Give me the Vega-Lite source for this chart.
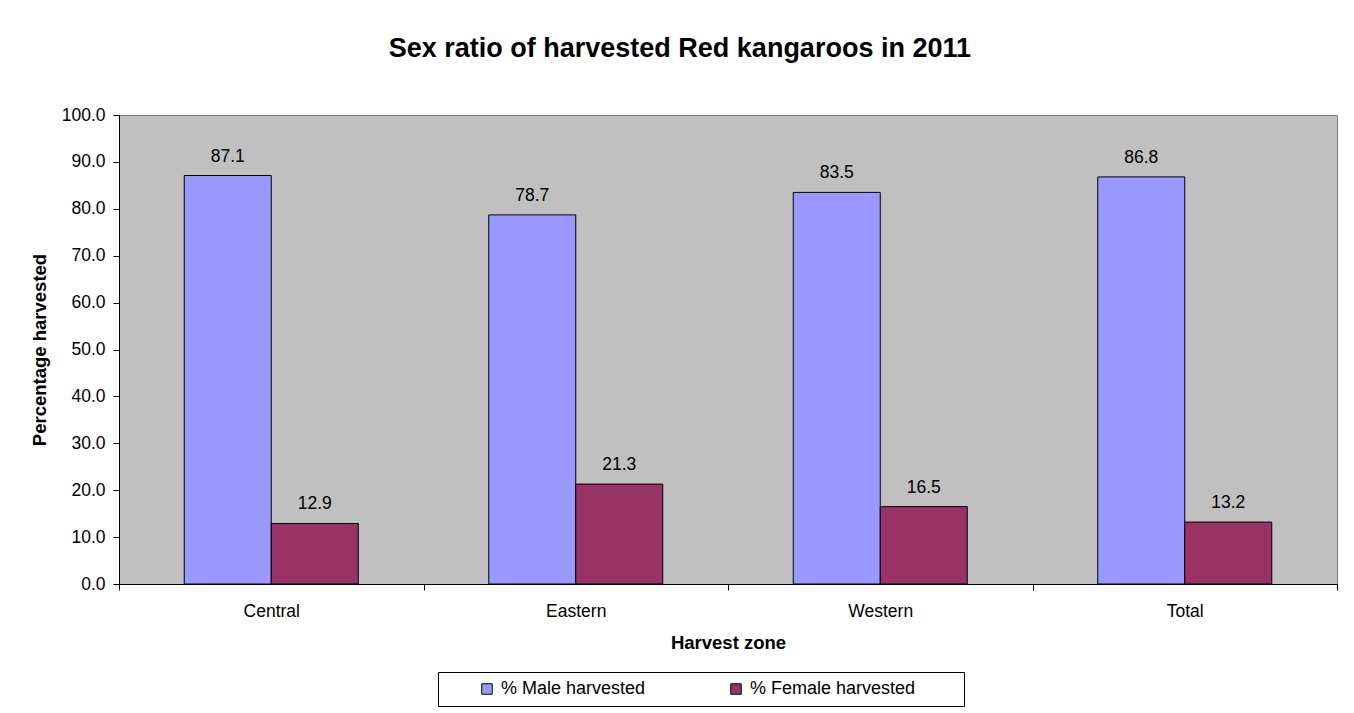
{
  "$schema": "https://vega.github.io/schema/vega-lite/v6.json",
  "width": 1218,
  "height": 469,
  "autosize": {"type": "none"},
  "padding": {"left": 119, "top": 115, "right": 17, "bottom": 129},
  "background": "white",
  "title": {
    "text": "Sex ratio of harvested Red kangaroos in 2011",
    "font": "Liberation Sans",
    "fontSize": 27,
    "fontWeight": "bold",
    "color": "black",
    "anchor": "middle",
    "frame": "bounds",
    "baseline": "alphabetic",
    "offset": 22,
    "dx": -4
  },
  "data": {
    "values": [
      {"zone": "Central", "sex": "% Male harvested", "pct": 87.1},
      {"zone": "Central", "sex": "% Female harvested", "pct": 12.9},
      {"zone": "Eastern", "sex": "% Male harvested", "pct": 78.7},
      {"zone": "Eastern", "sex": "% Female harvested", "pct": 21.3},
      {"zone": "Western", "sex": "% Male harvested", "pct": 83.5},
      {"zone": "Western", "sex": "% Female harvested", "pct": 16.5},
      {"zone": "Total", "sex": "% Male harvested", "pct": 86.8},
      {"zone": "Total", "sex": "% Female harvested", "pct": 13.2}
    ]
  },
  "encoding": {
    "x": {
      "field": "zone",
      "type": "nominal",
      "sort": ["Central", "Eastern", "Western", "Total"],
      "scale": {"paddingInner": 0, "paddingOuter": 0},
      "axis": {
        "title": "Harvest zone",
        "labelAngle": 0,
        "tickBand": "extent",
        "tickSize": 6,
        "tickColor": "black",
        "domainColor": "black",
        "labelPadding": 12,
        "labelFont": "Liberation Sans",
        "labelFontSize": 17.5,
        "labelColor": "black",
        "titleFont": "Liberation Sans",
        "titleFontSize": 18.5,
        "titleFontWeight": "bold",
        "titleColor": "black",
        "titlePadding": 14
      }
    },
    "xOffset": {
      "field": "sex",
      "type": "nominal",
      "sort": ["% Male harvested", "% Female harvested"],
      "scale": {"paddingInner": 0, "paddingOuter": 0.75}
    },
    "y": {
      "field": "pct",
      "type": "quantitative",
      "scale": {"domain": [0, 100]},
      "axis": {
        "title": "Percentage harvested",
        "values": [0, 10, 20, 30, 40, 50, 60, 70, 80, 90, 100],
        "format": ".1f",
        "grid": false,
        "tickSize": 6,
        "tickColor": "black",
        "domainColor": "black",
        "labelPadding": 8,
        "labelFont": "Liberation Sans",
        "labelFontSize": 17.5,
        "labelColor": "black",
        "titleFont": "Liberation Sans",
        "titleFontSize": 18.5,
        "titleFontWeight": "bold",
        "titleColor": "black",
        "titlePadding": 12
      }
    }
  },
  "layer": [
    {
      "mark": {"type": "bar", "stroke": "black", "strokeWidth": 1},
      "encoding": {
        "color": {
          "field": "sex",
          "type": "nominal",
          "scale": {
            "domain": ["% Male harvested", "% Female harvested"],
            "range": ["#9999FF", "#993366"]
          },
          "legend": {
            "orient": "none",
            "legendX": 319,
            "legendY": 557,
            "direction": "horizontal",
            "title": "\u00a0",
            "titleOrient": "left",
            "titlePadding": 32,
            "titleFontSize": 18,
            "symbolType": "square",
            "symbolSize": 110,
            "symbolStrokeColor": "black",
            "symbolStrokeWidth": 1,
            "labelFont": "Liberation Sans",
            "labelFontSize": 18,
            "labelColor": "black",
            "labelOffset": 5,
            "labelLimit": 400,
            "labelExpr": "datum.label == '% Female harvested' ? datum.label + '\u00a0\u00a0\u00a0\u00a0\u00a0\u00a0\u00a0\u00a0\u200b' : datum.label",
            "columnPadding": 81,
            "strokeColor": "black",
            "padding": 8
          }
        }
      }
    },
    {
      "mark": {
        "type": "text",
        "baseline": "alphabetic",
        "dy": -14,
        "font": "Liberation Sans",
        "fontSize": 17.5,
        "color": "black"
      },
      "encoding": {
        "text": {"field": "pct", "type": "quantitative", "format": ".1f"}
      }
    }
  ],
  "config": {
    "view": {"stroke": "#808080", "fill": "#C0C0C0"}
  }
}
